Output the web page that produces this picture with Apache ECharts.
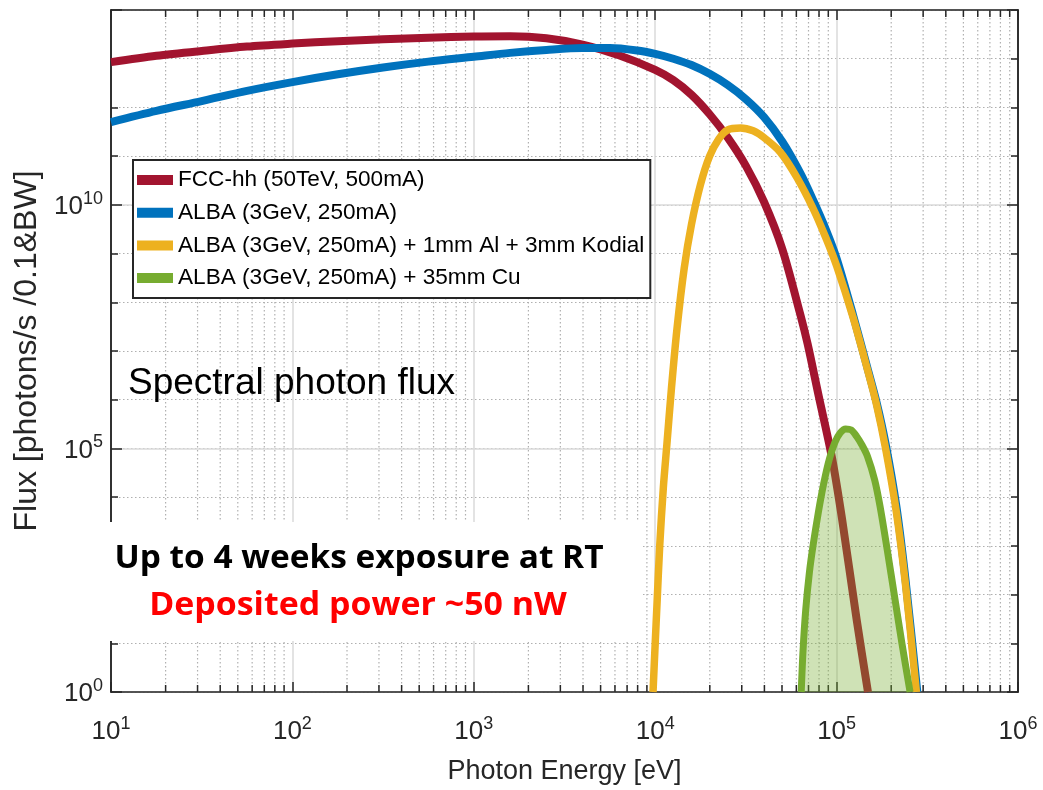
<!DOCTYPE html>
<html>
<head>
<meta charset="utf-8">
<script src="https://cdn.jsdelivr.net/npm/echarts@6/dist/echarts.min.js"></script>
<style>
html,body{margin:0;padding:0;background:#fff;}
#chart{width:1043px;height:790px;}
</style>
</head>
<body>
<div id="chart"></div>
<script>
// ---- Data ----
var seriesNames = [
  'FCC-hh (50TeV, 500mA)',
  'ALBA (3GeV, 250mA)',
  'ALBA (3GeV, 250mA) + 1mm Al + 3mm Kodial',
  'ALBA (3GeV, 250mA) + 35mm Cu'
];
// Photon energy [eV] and flux [photons/s/0.1%BW]
var fccE = [10, 17.8, 31.6, 56.2, 100, 178, 316, 562, 1000, 1585, 2512, 3981, 6310, 10000, 12590, 15850, 19950, 25120, 31620, 39810, 50120, 63100, 69180, 79430, 94410, 107200, 128800, 148900];
var fccF = [8.51e12, 1.148e13, 1.445e13, 1.778e13, 2.042e13, 2.291e13, 2.512e13, 2.692e13, 2.851e13, 2.884e13, 2.630e13, 1.950e13, 1.175e13, 5.888e12, 3.631e12, 1.820e12, 7.244e11, 2.399e11, 6.31e10, 1.148e10, 1.259e9, 5.623e7, 1.413e7, 1.259e6, 6.31e4, 3548, 31.6, 1];

var albaE = [10, 17.8, 31.6, 56.2, 100, 178, 316, 562, 1000, 1585, 2512, 3981, 5623, 7943, 10000, 12590, 15850, 19950, 25120, 31620, 39810, 50120, 63100, 74130, 87100, 100000, 123000, 147900, 166000, 186200, 213800, 239900, 278600];
var albaF = [5.012e11, 8.511e11, 1.349e12, 2.188e12, 3.311e12, 4.786e12, 6.607e12, 8.71e12, 1.096e13, 1.318e13, 1.514e13, 1.66e13, 1.66e13, 1.479e13, 1.259e13, 1.0e13, 7.413e12, 4.898e12, 2.884e12, 1.479e12, 6.31e11, 1.995e11, 4.467e10, 1.259e10, 3.162e9, 7.943e8, 5.623e7, 4.467e6, 8.913e5, 1.259e5, 6310, 200, 1];

var kodE = [9727, 10000, 10230, 10590, 11090, 11610, 12300, 13180, 14450, 15850, 17780, 19950, 22390, 25120, 29510, 34670, 39810, 48980, 60260, 74130, 87100, 100000, 123000, 147900, 166000, 186200, 213800, 239900, 275400];
var kodF = [1, 10, 63.1, 1000, 1.585e4, 1.259e5, 1.778e6, 2.818e7, 5.012e8, 3.981e9, 2.63e10, 1.0e11, 2.239e11, 3.467e11, 3.802e11, 3.311e11, 2.399e11, 1.202e11, 3.715e10, 8.511e9, 2.138e9, 5.623e8, 5.012e7, 4.169e6, 7.943e5, 1.0e5, 4786, 158.5, 1];

var cuE = [63830, 65310, 67610, 70790, 74130, 79430, 85110, 91200, 97720, 104700, 112200, 120200, 128800, 138000, 147900, 162200, 173800, 190500, 208900, 229100, 254100];
var cuF = [1, 7.08, 50.1, 281.8, 1000, 5012, 1.995e4, 6.026e4, 1.318e5, 2.089e5, 2.512e5, 2.399e5, 1.778e5, 1.175e5, 6.918e4, 2.239e4, 6310, 794.3, 89.1, 10, 1];

var xDecades = [1, 2, 3, 4, 5, 6];          // tick labels 10^1 ... 10^6
var yLabelDecades = [0, 5, 10];            // labelled y ticks
var minorMultipliers = [2, 3, 4, 5, 6, 7, 8, 9];

var colors = ['#A2142F', '#0072BD', '#EDB120', '#77AC30'];
var FONT = "'Liberation Sans', Arial, Helvetica, sans-serif";
var AX = '#262626';

function pairs(xs, ys) { return xs.map(function (x, i) { return [x, ys[i]]; }); }

// minor x grid positions (2..9 x 10^k)
var minorX = [];
for (var d = 0; d < xDecades.length - 1; d++) {
  minorMultipliers.forEach(function (m) { minorX.push([m * Math.pow(10, xDecades[d]), 1]); });
}

function renderMinor(params, api) {
  var cs = params.coordSys;
  var x = api.coord([api.value(0), 1])[0];
  return {
    type: 'group',
    children: [
      { type: 'line', shape: { x1: x, y1: cs.y, x2: x, y2: cs.y + cs.height },
        style: { stroke: '#b0b0b0', lineWidth: 1.2, lineDash: [1.5, 2.5] } },
      { type: 'line', shape: { x1: x, y1: cs.y + cs.height, x2: x, y2: cs.y + cs.height - 7 },
        style: { stroke: AX, lineWidth: 1.5 } },
      { type: 'line', shape: { x1: x, y1: cs.y, x2: x, y2: cs.y + 7 },
        style: { stroke: AX, lineWidth: 1.5 } }
    ]
  };
}

var richLab = {
  b: { fontSize: 26, fontFamily: FONT, color: AX, lineHeight: 30, verticalAlign: 'bottom' },
  s: { fontSize: 18, fontFamily: FONT, color: AX, lineHeight: 14, verticalAlign: 'top' }
};

function expOf(v) { return Math.round(Math.log(v) / Math.LN10); }

function yAxisDef(pos, interval, len, labels) {
  return {
    type: 'log', logBase: 10, min: 1, max: 1e14, interval: interval, position: pos,
    axisLine: { show: true, onZero: false, lineStyle: { color: AX, width: 1.5 } },
    axisTick: { show: true, inside: true, length: len, lineStyle: { color: AX, width: 1.5 } },
    axisLabel: labels ? {
      show: true, margin: 8, rich: richLab,
      formatter: function (v) {
        var e = expOf(v);
        return yLabelDecades.indexOf(e) >= 0 ? '{b|10}{s|' + e + '}' : '';
      }
    } : { show: false },
    splitLine: interval === 1 ?
      { show: pos === 'left', lineStyle: { color: '#b0b0b0', width: 1.2, type: [1.5, 2.5] } } :
      { show: pos === 'left', lineStyle: { color: '#dadada', width: 1.5 } },
    minorTick: { show: false }
  };
}

var yAxes = [yAxisDef('left', 1, 7, false), yAxisDef('left', 5, 11, true),
             yAxisDef('right', 1, 7, false), yAxisDef('right', 5, 11, false)];
yAxes[1].name = 'Flux [photons/s /0.1&BW]';
yAxes[1].nameLocation = 'middle';
yAxes[1].nameGap = 51;
yAxes[1].nameTextStyle = { fontSize: 32, fontFamily: FONT, color: AX };

function xAxisDef(pos, labels) {
  return {
    type: 'log', logBase: 10, min: 10, max: 1e6, interval: 1, position: pos,
    axisLine: { show: true, onZero: false, lineStyle: { color: AX, width: 1.5 } },
    axisTick: { show: true, inside: true, length: 10, lineStyle: { color: AX, width: 1.5 } },
    axisLabel: labels ? {
      show: true, margin: 23, rich: richLab,
      formatter: function (v) { return '{b|10}{s|' + expOf(v) + '}'; }
    } : { show: false },
    splitLine: { show: labels, lineStyle: { color: '#dadada', width: 1.5 } },
    minorTick: { show: false }
  };
}
var xAxes = [xAxisDef('bottom', true), xAxisDef('top', false)];
xAxes[0].name = 'Photon Energy [eV]';
xAxes[0].nameLocation = 'middle';
xAxes[0].nameGap = 66;
xAxes[0].nameTextStyle = { fontSize: 27, fontFamily: FONT, color: AX };

function lineSeries(i, xs, ys, width, extra) {
  var s = {
    name: seriesNames[i], type: 'line', xAxisIndex: 0, yAxisIndex: 0,
    data: pairs(xs, ys), smooth: 0.3, symbol: 'none', showSymbol: false,
    color: colors[i], lineStyle: { color: colors[i], width: width, cap: 'butt', join: 'round' },
    itemStyle: { color: colors[i] }, z: 3 + i, silent: true, animation: false
  };
  if (extra) for (var k in extra) s[k] = extra[k];
  return s;
}

var BOLD = 'bold 32px "Open Sans", Lato, sans-serif';

var chart = echarts.init(document.getElementById('chart'), null, { renderer: 'canvas' });
chart.setOption({
  animation: false,
  backgroundColor: '#fff',
  grid: { left: 111, right: 25, top: 10, bottom: 97, containLabel: false },
  xAxis: xAxes,
  yAxis: yAxes,
  legend: {
    orient: 'vertical', left: 133, top: 160,
    padding: [8, 6, 8, 4], itemWidth: 36, itemHeight: 10, itemGap: 8.7,
    icon: 'rect', backgroundColor: '#fff', borderColor: AX, borderWidth: 2,
    selectedMode: false, z: 10,
    data: seriesNames,
    textStyle: { fontSize: 22.6, fontFamily: FONT, color: '#000', lineHeight: 24 }
  },
  graphic: [
    { type: 'rect', z: 100, shape: { x: 100, y: 522, width: 542, height: 119 }, style: { fill: '#fff' } },
    { type: 'text', z: 101, x: 128, y: 384,
      style: { text: 'Spectral photon flux', font: '37px ' + FONT, fill: '#000', verticalAlign: 'middle', align: 'left' } },
    { type: 'text', z: 101, x: 359, y: 559, scaleX: 1.045,
      style: { text: 'Up to 4 weeks exposure at RT', font: BOLD, fill: '#000', verticalAlign: 'middle', align: 'center' } },
    { type: 'text', z: 101, x: 358, y: 606, scaleX: 1.06,
      style: { text: 'Deposited power ~50 nW', font: BOLD, fill: '#ff0000', verticalAlign: 'middle', align: 'center' } }
  ],
  series: [
    { type: 'custom', xAxisIndex: 0, yAxisIndex: 0, data: minorX, renderItem: renderMinor,
      encode: { x: 0, y: 1 }, silent: true, z: 1, clip: false, legendHoverLink: false },
    lineSeries(0, fccE, fccF, 8),
    lineSeries(1, albaE, albaF, 8),
    lineSeries(2, kodE, kodF, 7.5),
    lineSeries(3, cuE, cuF, 7, { areaStyle: { color: 'rgba(119,172,48,0.5)', origin: 'start' } })
  ]
});
</script>
</body>
</html>
